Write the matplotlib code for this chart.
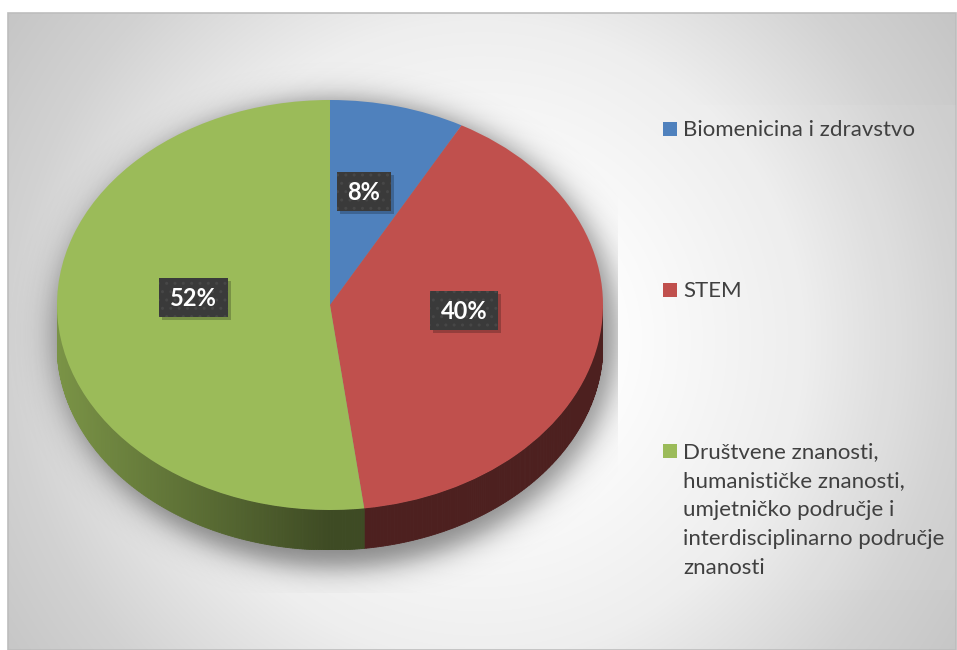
import numpy as np
import matplotlib
matplotlib.use("Agg")
import matplotlib.pyplot as plt
from matplotlib.patches import Rectangle, Polygon

# ---------------- data ----------------
categories = ["Biomenicina i zdravstvo",
              "STEM",
              "Društvene znanosti,\nhumanističke znanosti,\numjetničko područje i\ninterdisciplinarno područje\nznanosti"]
shares = [8, 40, 52]
pct_labels = ["8%", "40%", "52%"]
top_colors = ["#4f81bd", "#c0504d", "#9bbb59"]

# ---------------- figure ----------------
W, H = 957, 650
fig = plt.figure(figsize=(W / 100, H / 100), dpi=100)
fig.patch.set_facecolor("white")

bg = fig.add_axes([0, 0, 1, 1])
bg.set_xlim(0, W)
bg.set_ylim(H, 0)
bg.axis("off")

# panel radial gradient
px0, py0, px1, py1 = 8, 13, 956, 650
yy, xx = np.mgrid[0:H, 0:W] + 0.5
d = np.hypot(xx - 480, yy - 340)
lev = np.interp(d, [0, 150, 320, 470, 570, 700], [255, 252, 238, 210, 198, 192]) / 255.0
img = np.ones((H, W, 3))
inside = (xx >= px0) & (xx <= px1) & (yy >= py0) & (yy <= py1)
for c in range(3):
    img[..., c] = np.where(inside, lev, 1.0)
bg.imshow(img, extent=(0, W, H, 0), aspect="auto", interpolation="bilinear", zorder=0)
bg.add_patch(Rectangle((px0, py0), px1 - px0, py1 - py0, fill=False,
                       edgecolor="#bdbdbd", lw=1.2, zorder=1))

# pie shadow (clipped to plot area)
cx, cy, sa, sb = 336, 334, 281, 234
r = np.hypot((xx - cx) / sa, (yy - cy) / sb)
alpha = 0.45 / (1 + np.exp((r - 1) * 234 / 8.0))
alpha = np.where((xx <= 618) & (yy <= 593), alpha, 0)
sh = np.zeros((H, W, 4))
sh[..., 3] = alpha
bg.imshow(sh, extent=(0, W, H, 0), aspect="auto", interpolation="bilinear", zorder=2)

# legend box
bg.add_patch(Rectangle((650, 105), 306, 485, facecolor="white", alpha=0.06,
                       edgecolor="none", zorder=3))

# ---------------- 3D pie ----------------
depth_px, a_px, b_px = 40, 273, 205
dep = depth_px / b_px
pie_left, pie_top = 330 - a_px, 305 - b_px
pax = fig.add_axes([pie_left / W, (H - (pie_top + 2 * b_px + depth_px)) / H,
                    2 * a_px / W, (2 * b_px + depth_px) / H])
wedges, _ = pax.pie(shares, colors=top_colors, startangle=90, counterclock=False,
                    radius=1, center=(0, 0), wedgeprops=dict(linewidth=0, zorder=5))
pax.set_aspect("auto")
pax.set_xlim(-1, 1)
pax.set_ylim(-1 - dep, 1)
pax.axis("off")

def shade(col, t):
    rgb = np.array(matplotlib.colors.to_rgb(col))
    f = 0.40 + 0.39 * max(0.0, -np.cos(t))
    return tuple(rgb * f)

for w, col in zip(wedges, top_colors):
    t1, t2 = np.deg2rad(w.theta1), np.deg2rad(w.theta2)
    ts = np.linspace(t1, t2, max(3, int(abs(w.theta2 - w.theta1) * 2)))
    for ta, tb in zip(ts[:-1], ts[1:]):
        tm = 0.5 * (ta + tb)
        if np.sin(tm) >= 0:
            continue
        poly = [(np.cos(ta), np.sin(ta)), (np.cos(tb), np.sin(tb)),
                (np.cos(tb), np.sin(tb) - dep), (np.cos(ta), np.sin(ta) - dep)]
        c = shade(col, tm)
        pax.add_patch(Polygon(poly, closed=True, facecolor=c, edgecolor=c,
                              lw=0.6, zorder=2))

# ---------------- data labels ----------------
ov = fig.add_axes([0, 0, 1, 1])
ov.set_xlim(0, W)
ov.set_ylim(H, 0)
ov.axis("off")
ov.patch.set_alpha(0)

fig.canvas.draw()
renderer = fig.canvas.get_renderer()
for w, lab in zip(wedges, pct_labels):
    tm = np.deg2rad(0.5 * (w.theta1 + w.theta2))
    disp = pax.transData.transform((0.5 * np.cos(tm), 0.5 * np.sin(tm)))
    x, y = ov.transData.inverted().transform(disp)
    y -= 14
    t = ov.text(x, y + 1, lab, ha="center", va="center", color="white",
                fontsize=17, fontweight="bold", family=["Lato", "DejaVu Sans"], zorder=10)
    ext = t.get_window_extent(renderer)
    tw = ext.width
    bw, bh = tw + 22, 39
    ov.add_patch(Rectangle((x - bw / 2 + 3, y - bh / 2 + 3), bw, bh,
                           facecolor="black", alpha=0.22, edgecolor="none", zorder=8))
    ov.add_patch(Rectangle((x - bw / 2, y - bh / 2), bw, bh, facecolor="#3a3a3a",
                           edgecolor="#474747", hatch="..", lw=0, zorder=9))

# ---------------- legend ----------------
base_y = [136, 297, 458]
line_gap = 29
for cat, col, by in zip(categories, top_colors, base_y):
    ov.add_patch(Rectangle((663, by - 14), 14, 14, facecolor=col, edgecolor="none", zorder=10))
    for i, line in enumerate(cat.split("\n")):
        ov.text(683, by + i * line_gap, line, ha="left", va="baseline",
                fontsize=16, color="#404040", family=["Lato", "DejaVu Sans"], zorder=10)

fig.savefig("out.png", dpi=100)
